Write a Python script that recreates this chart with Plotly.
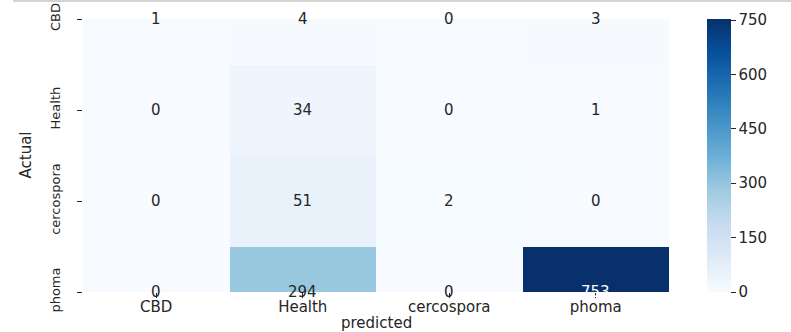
import plotly.graph_objects as go

# Confusion matrix of the leaf-disease classifier
classes = ["CBD", "Health", "cercospora", "phoma"]
row_cbd = [1, 4, 0, 3]
row_health = [0, 34, 0, 1]
row_cercospora = [0, 51, 2, 0]
row_phoma = [0, 294, 0, 753]
cbar_ticks = [0, 150, 300, 450, 600, 750]

matrix = [row_cbd, row_health, row_cercospora, row_phoma]
zmax = max(max(r) for r in matrix)

# matplotlib "Blues" colormap stops
blues = ["#f7fbff", "#deebf7", "#c6dbef", "#9ecae1", "#6baed6",
         "#4292c6", "#2171b5", "#08519c", "#08306b"]
colorscale = [[i / (len(blues) - 1), c] for i, c in enumerate(blues)]

W, H = 791, 332
L, R, T, B = 83, 122, 19, 40
plot_w = W - L - R
plot_h = H - T - B

FONT = "DejaVu Sans"
TXT = "#262626"

fig = go.Figure()
fig.add_trace(go.Heatmap(
    z=matrix,
    x=list(range(len(classes))),
    y=list(range(len(classes))),
    zmin=0, zmax=zmax,
    colorscale=colorscale,
    showscale=True,
    hoverinfo="skip",
    colorbar=dict(
        thickness=24,
        lenmode="pixels", len=plot_h,
        y=0.5, yanchor="middle", ypad=0,
        x=(707 - L) / plot_w, xanchor="left", xpad=0,
        outlinewidth=0,
        tickvals=cbar_ticks,
        ticks="outside", ticklen=5, tickcolor=TXT,
        tickfont=dict(family=FONT, size=15, color=TXT),
    ),
))

# cell value labels, light text on dark cells
for i, row in enumerate(matrix):
    for j, v in enumerate(row):
        fig.add_annotation(
            x=j, y=i, xref="x", yref="y", text=str(v), showarrow=False,
            font=dict(family=FONT, size=15,
                      color="white" if v / zmax > 0.6 else TXT),
        )

# axis titles
fig.add_annotation(x=0.5, y=0, xref="paper", yref="paper", yshift=-31,
                   xanchor="center", yanchor="middle",
                   text="predicted", showarrow=False,
                   font=dict(family=FONT, size=15, color=TXT))
fig.add_annotation(x=0, y=0.5, xref="paper", yref="paper", xshift=-58,
                   xanchor="center", yanchor="middle",
                   text="Actual", textangle=-90, showarrow=False,
                   font=dict(family=FONT, size=15, color=TXT))

# thin rule along the top edge
fig.add_shape(type="line", xref="paper", yref="paper",
              x0=-(L - 13) / plot_w, x1=(W - L) / plot_w,
              y0=1 + (T - 1) / plot_h, y1=1 + (T - 1) / plot_h,
              line=dict(color="#d4d4d4", width=2))

fig.update_xaxes(
    range=[-0.5, len(classes) - 0.5],
    tickvals=list(range(len(classes))), ticktext=classes,
    ticks="outside", ticklen=5, tickcolor=TXT,
    ticklabelstandoff=-4,
    tickfont=dict(family=FONT, size=15, color=TXT),
    showgrid=False, zeroline=False, showline=False,
)
fig.update_yaxes(
    range=[len(classes) - 1, 0],
    tickvals=list(range(len(classes))), ticktext=classes,
    tickangle=-90,
    ticks="outside", ticklen=5, tickcolor=TXT,
    ticklabelstandoff=12,
    tickfont=dict(family=FONT, size=13, color=TXT),
    showgrid=False, zeroline=False, showline=False,
)

fig.update_layout(
    width=W, height=H,
    margin=dict(l=L, r=R, t=T, b=B, autoexpand=False),
    paper_bgcolor="white", plot_bgcolor="white",
    font=dict(family=FONT, color=TXT),
)

fig.write_html("out.html")
